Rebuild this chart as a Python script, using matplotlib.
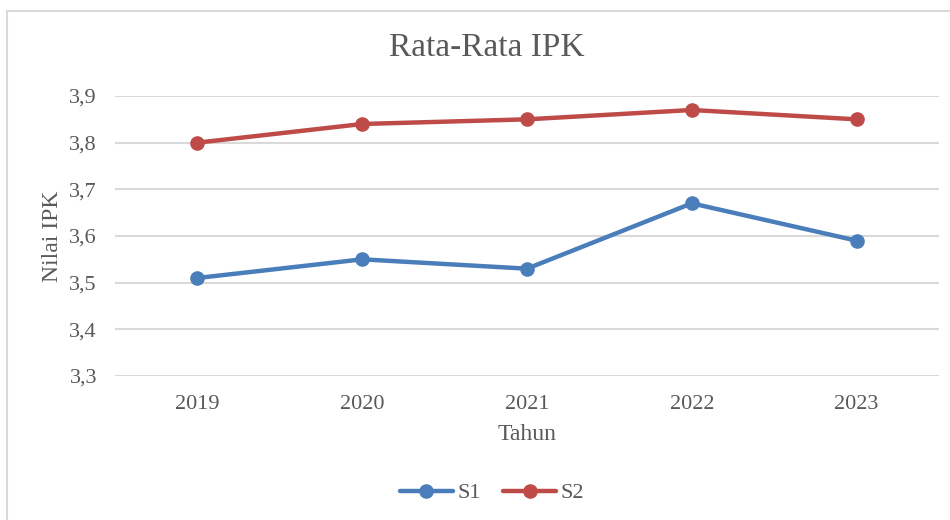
import matplotlib
matplotlib.use('Agg')
import matplotlib.pyplot as plt
from matplotlib.patches import Rectangle
from matplotlib.ticker import FuncFormatter

plt.rcParams['font.family'] = ['Liberation Serif', 'DejaVu Serif']

# data
tahun = ['2019', '2020', '2021', '2022', '2023']
s1 = [3.51, 3.55, 3.53, 3.67, 3.59]
s2 = [3.80, 3.84, 3.85, 3.87, 3.85]
yticks = [3.3, 3.4, 3.5, 3.6, 3.7, 3.8, 3.9]

txt = '#595959'
blue = '#4A7EBB'
red = '#BE4B48'

fig = plt.figure(figsize=(9.5, 5.2), dpi=100)
W, H = 950, 520
ax = fig.add_axes([115/W, 144/H, (939-115)/W, (376-96)/H])

# chart border (Excel style frame, runs off right/bottom)
fig.patches.append(Rectangle((7/W, -0.1), 1.2, (509+52)/H, transform=fig.transFigure,
                             fill=False, edgecolor='#D9D9D9', linewidth=1.5))

x = range(len(tahun))
ax.plot(x, s1, color=blue, lw=3.2, marker='o', ms=9.5, label='S1', solid_capstyle='round')
ax.plot(x, s2, color=red, lw=3.2, marker='o', ms=9.5, label='S2', solid_capstyle='round')

ax.set_xlim(-0.5, len(tahun) - 0.5)
ax.set_ylim(3.3, 3.9)
ax.set_yticks(yticks)
ax.yaxis.set_major_formatter(FuncFormatter(lambda v, p: ('%.1f' % v).replace('.', ',')))
ax.set_xticks(list(x))
ax.set_xticklabels(tahun)
ax.grid(axis='y', color='#D9D9D9', lw=1.5)
ax.set_axisbelow(True)
for s in ax.spines.values():
    s.set_visible(False)
ax.tick_params(length=0, labelsize=16, colors=txt)
ax.tick_params(axis='x', pad=14)
ax.tick_params(axis='y', pad=13)

fig.text(487/W, 1 - 48/H, 'Rata-Rata IPK', ha='center', va='center', fontsize=24, color=txt)
fig.text(52/W, 1 - 236/H, 'Nilai IPK', ha='center', va='center', rotation=90, fontsize=17, color=txt)
fig.text(527/W, 1 - 435/H, 'Tahun', ha='center', va='center', fontsize=17, color=txt)

fig.legend(loc='center', bbox_to_anchor=(492/W, 1 - 493/H), ncol=2, frameon=False,
           fontsize=16, labelcolor=txt, handlelength=2.4, handletextpad=0.2, columnspacing=1.0)

fig.savefig('out.png', dpi=100)
